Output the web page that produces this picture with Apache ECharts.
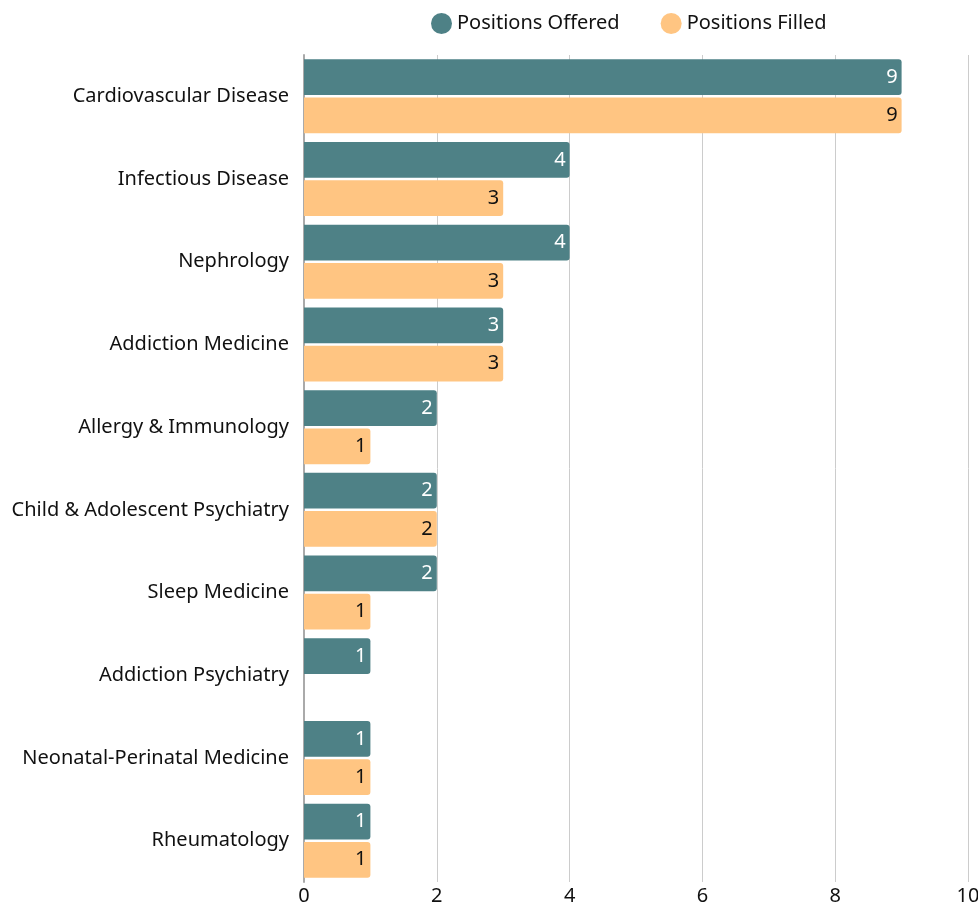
<!DOCTYPE html>
<html><head><meta charset="utf-8">
<script src="https://cdn.jsdelivr.net/npm/echarts@6/dist/echarts.min.js"></script>
<style>html,body{margin:0;padding:0;background:#fff}#c{width:978px;height:903px}</style>
</head><body><div id="c"></div>
<script>
const categories = ["Cardiovascular Disease","Infectious Disease","Nephrology","Addiction Medicine","Allergy & Immunology","Child & Adolescent Psychiatry","Sleep Medicine","Addiction Psychiatry","Neonatal-Perinatal Medicine","Rheumatology"];
const offered = [9,4,4,3,2,2,2,1,1,1];
const filled = [9,3,3,3,1,2,1,null,1,1];
const xTicks = [0,2,4,6,8,10];

const FONT = "Noto Sans";
const chart = echarts.init(document.getElementById('c'));
chart.setOption({
  animation:false,
  textStyle:{fontFamily:FONT},
  legend:{left:431, top:13, padding:0, icon:'circle', itemWidth:21, itemHeight:21, itemGap:41,
    textStyle:{fontSize:20, color:'#111', fontFamily:FONT},
    data:['Positions Offered','Positions Filled']},
  grid:{left:304, right:10, top:55, bottom:21, containLabel:false, outerBoundsMode:'none'},
  xAxis:{type:'value', min:xTicks[0], max:xTicks[xTicks.length-1], interval:2,
    axisLine:{show:false}, axisTick:{show:false},
    axisLabel:{fontSize:20, color:'#111', margin:4, fontFamily:FONT},
    splitLine:{lineStyle:{color:'#ccc', width:1}}},
  yAxis:{type:'category', data:categories, inverse:true,
    axisLine:{show:true, lineStyle:{color:'#aaa', width:2}}, axisTick:{show:false},
    axisLabel:{fontSize:20, color:'#111', margin:15, fontFamily:FONT}},
  series:[
    {name:'Positions Offered', type:'bar', data:offered, barCategoryGap:'10.5%', barGap:'7%',
     itemStyle:{color:'#4e8186', borderRadius:[0,3,3,0]},
     label:{show:true, position:'insideRight', color:'#fff', fontSize:20, distance:4, fontFamily:FONT}},
    {name:'Positions Filled', type:'bar', data:filled, barCategoryGap:'10.5%', barGap:'7%',
     itemStyle:{color:'#ffc582', borderRadius:[0,3,3,0]},
     label:{show:true, position:'insideRight', color:'#111', fontSize:20, distance:4, fontFamily:FONT}}
  ]
});
</script></body></html>
